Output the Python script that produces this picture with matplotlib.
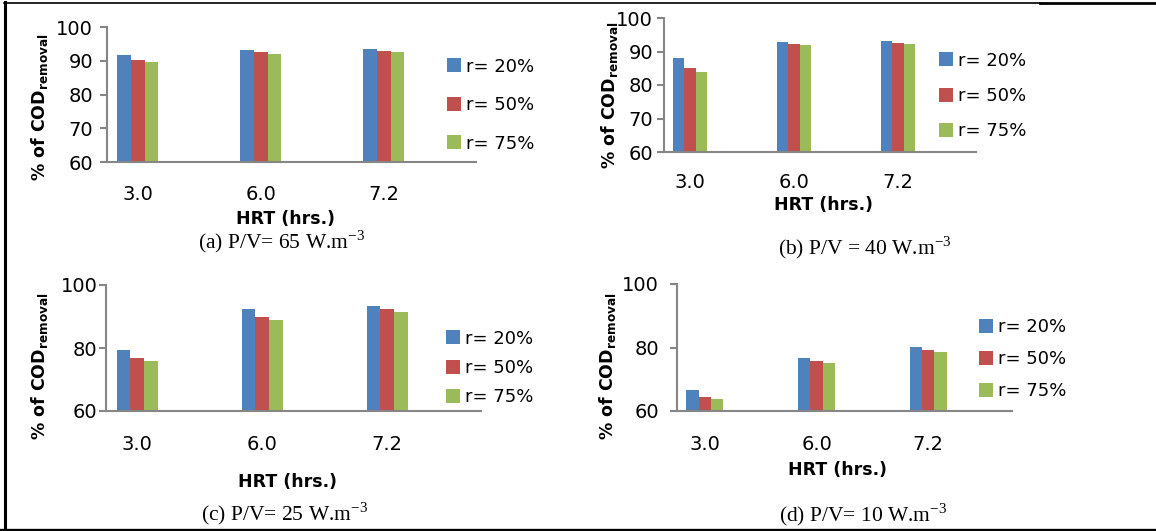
import numpy as np
import matplotlib.pyplot as plt
from matplotlib.lines import Line2D

plt.rcParams['font.family'] = ['DejaVu Sans']

W, H = 1156, 531
DPI = 100

hrt = ['3.0', '6.0', '7.2']
series = ['r= 20%', 'r= 50%', 'r= 75%']
colors = ['#4F81BD', '#C0504D', '#9BBB59']

# % COD removal for each recycle ratio, per power input
pv65_r20 = [91.8, 93.1, 93.4]
pv65_r50 = [90.2, 92.5, 92.8]
pv65_r75 = [89.5, 92.0, 92.5]

pv40_r20 = [88.1, 92.9, 93.2]
pv40_r50 = [85.1, 92.2, 92.6]
pv40_r75 = [83.9, 91.8, 92.3]

pv25_r20 = [79.5, 92.5, 93.2]
pv25_r50 = [76.9, 89.8, 92.5]
pv25_r75 = [75.8, 89.0, 91.5]

pv10_r20 = [66.7, 76.8, 80.2]
pv10_r50 = [64.5, 75.7, 79.2]
pv10_r75 = [63.7, 75.0, 78.6]

yticks_a = [60, 70, 80, 90, 100]
yticks_c = [60, 80, 100]

fig = plt.figure(figsize=(W / DPI, H / DPI), dpi=DPI)
PT = DPI / 72.0


def px(x, y):
    # pixel position (from top-left) -> figure fraction
    return x / W, 1 - y / H


def panel(box, data, yticks, xpad, ypad, leg, ylab_xy, hrt_xy, cap_xy, caption):
    x0, x1, ytop, ybot = box
    l, b = px(x0, ybot)
    ax = fig.add_axes([l, b, (x1 - x0) / W, (ybot - ytop) / H])
    xs = np.arange(len(hrt))
    w = 0.11
    handles = []
    for i, vals in enumerate(data):
        h = ax.bar(xs + (i - 1) * w, np.array(vals) - 60, w, bottom=60,
                   color=colors[i], linewidth=0)
        handles.append(h)
    ax.set_xlim(-0.25, 2.75)
    ax.set_ylim(60, 100)
    ax.set_yticks(yticks)
    ax.set_xticks(xs)
    ax.set_xticklabels(hrt)
    for s in ['top', 'right']:
        ax.spines[s].set_visible(False)
    for s in ['left', 'bottom']:
        ax.spines[s].set_color('#868686')
        ax.spines[s].set_linewidth(1.5)
    ax.tick_params(axis='x', length=0, pad=xpad, labelsize=14)
    ax.tick_params(axis='y', length=5, width=1.5, color='#868686',
                   direction='out', pad=ypad, labelsize=14)
    ax.patch.set_alpha(0)

    lx, ly, pitch = leg
    fx, fy = px(lx, ly)
    fs = 13
    ax.legend(handles, series, loc='center left', bbox_to_anchor=(fx, fy),
              bbox_transform=fig.transFigure, frameon=False, fontsize=fs,
              handlelength=0.78, handleheight=0.78, handletextpad=0.28,
              labelspacing=(pitch - 21) / (fs * PT),
              borderpad=0, borderaxespad=0)

    tx, ty = px(*ylab_xy)
    fig.text(tx, ty, r'% of COD$_{\mathregular{removal}}$', rotation=90,
             ha='center', va='center', fontsize=12.5, fontweight='bold')
    tx, ty = px(*hrt_xy)
    fig.text(tx, ty, 'HRT (hrs.)', ha='center', va='center',
             fontsize=12.5, fontweight='bold')
    tx, ty = px(*cap_xy)
    fig.text(tx, ty, caption, ha='center', va='baseline', fontsize=15.5,
             family='Liberation Serif')


panel((107, 476, 27, 162), [pv65_r20, pv65_r50, pv65_r75], yticks_a,
      16.5, 5, (447, 105, 41.5), (40, 107), (286, 219), (282, 248),
      r'(a) P/V= 65 W.m$^{\mathregular{-3}}$')
panel((664, 976, 18, 152), [pv40_r20, pv40_r50, pv40_r75], yticks_a,
      15, 3, (939, 96, 38.5), (609, 95), (823, 205), (865, 254),
      r'(b) P/V = 40 W.m$^{\mathregular{-3}}$')
panel((106, 481, 285, 411), [pv25_r20, pv25_r50, pv25_r75], yticks_c,
      17.3, 1, (446, 368, 32.5), (40, 366), (288, 482), (285, 520),
      r'(c) P/V= 25 W.m$^{\mathregular{-3}}$')
panel((677, 1012, 284, 411), [pv10_r20, pv10_r50, pv10_r75], yticks_c,
      17.3, 8, (979, 359, 35), (607, 366), (837, 470), (863, 521),
      r'(d) P/V= 10 W.m$^{\mathregular{-3}}$')


# outer frame
def frame_line(xa, ya, xb, yb, lw):
    (x0, y0), (x1, y1) = px(xa, ya), px(xb, yb)
    fig.add_artist(Line2D([x0, x1], [y0, y1], color='black', lw=lw,
                          transform=fig.transFigure))


frame_line(4, 2.5, 1040, 2.5, 1.2)
frame_line(1040, 2.5, 1156, 2.5, 2.0)
frame_line(4.5, 2, 4.5, 531, 2.2)
frame_line(0, 529.5, 1156, 529.5, 2.4)

fig.savefig('out.png', dpi=DPI)
